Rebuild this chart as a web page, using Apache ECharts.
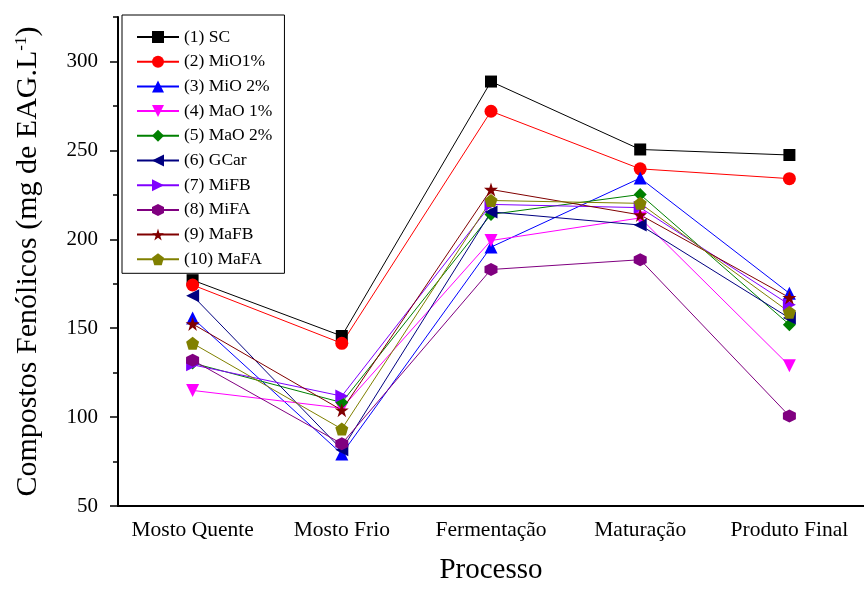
<!DOCTYPE html>
<html>
<head>
<meta charset="utf-8">
<script src="https://cdn.jsdelivr.net/npm/echarts@6/dist/echarts.min.js"></script>
<style>html,body{margin:0;padding:0;background:#fff}#c{width:864px;height:590px}</style>
</head>
<body>
<div id="c"></div>
<script>
const categories = ['Mosto Quente', 'Mosto Frio', 'Fermentação', 'Maturação', 'Produto Final'];
const seriesNames = ['(1) SC', '(2) MiO1%', '(3) MiO 2%', '(4) MaO 1%', '(5) MaO 2%', '(6) GCar', '(7) MiFB', '(8) MiFA', '(9) MaFB', '(10) MaFA'];
const sc    = [177, 145.6, 288.7, 250.5, 247.4];
const mio1  = [174.3, 141.5, 272, 239.6, 234.1];
const mio2  = [155.7, 79.3, 195.6, 234.4, 169.6];
const mao1  = [115, 105, 199.3, 212, 128.9];
const mao2  = [130.4, 108.2, 214, 225.2, 152];
const gcar  = [168.3, 81.7, 215.4, 208, 155.7];
const mifb  = [129.4, 111.8, 219.6, 217.8, 163.2];
const mifa  = [132, 85, 183, 188.5, 100.6];
const mafb  = [152.4, 103.9, 228, 213.7, 167.2];
const mafa  = [141.5, 93.3, 221.8, 220.2, 159];
const yTicks = [50, 100, 150, 200, 250, 300];
const yMinorTicks = [75, 125, 175, 225, 275, 325];

const values = [sc, mio1, mio2, mao1, mao2, gcar, mifb, mifa, mafb, mafa];
const colors = ['#000000', '#ff0000', '#0000ff', '#ff00ff', '#008000', '#000080', '#8000ff', '#800080', '#800000', '#808000'];
const symbols = [
  'rect',
  'circle',
  'triangle',
  'path://M0,0 L10,0 L5,9 Z',
  'diamond',
  'path://M9,0 L9,10 L0,5 Z',
  'path://M0,0 L0,10 L9,5 Z',
  'path://M5,0 L9.33,2.5 L9.33,7.5 L5,10 L0.67,7.5 L0.67,2.5 Z',
  'path://M5,0 L6.18,3.62 L10,3.62 L6.91,5.85 L8.09,9.47 L5,7.24 L1.91,9.47 L3.09,5.85 L0,3.62 L3.82,3.62 Z',
  'path://M5,0 L10,3.8 L8.1,10 L1.9,10 L0,3.8 Z'
];
const sizes = [12, 13, 13, 13, 13, 13, 13, 13, 14, 13];

const font = '"Liberation Serif", "Times New Roman", serif';

const series = values.map((v, i) => ({
  name: seriesNames[i],
  type: 'line',
  data: v,
  xAxisIndex: 0,
  yAxisIndex: 0,
  symbol: symbols[i],
  symbolSize: sizes[i],
  showAllSymbol: true,
  color: colors[i],
  lineStyle: { width: 1, color: colors[i] },
  itemStyle: { color: colors[i] },
  emphasis: { disabled: true },
  animation: false
}));

const chart = echarts.init(document.getElementById('c'), null, { renderer: 'canvas' });
chart.setOption({
  backgroundColor: '#ffffff',
  animation: false,
  textStyle: { fontFamily: font },
  grid: { left: 118, top: 17, bottom: 78, right: -9, containLabel: false },
  legend: {
    orient: 'vertical',
    left: 122,
    top: 15,
    padding: [13, 12, 5, 14],
    itemWidth: 42,
    itemHeight: 15,
    itemGap: 6.7,
    borderColor: '#000',
    borderWidth: 1,
    backgroundColor: '#fff',
    textStyle: { fontFamily: font, fontSize: 17.5, color: '#000' },
    data: seriesNames
  },
  xAxis: [{
    type: 'category',
    data: categories,
    boundaryGap: true,
    name: 'Processo',
    nameLocation: 'middle',
    nameGap: 50,
    nameTextStyle: { fontFamily: font, fontSize: 29, color: '#000' },
    axisLine: { lineStyle: { color: '#000', width: 2 } },
    axisTick: { alignWithLabel: true, length: 9, lineStyle: { color: '#000', width: 1.5 } },
    axisLabel: { color: '#000', fontFamily: font, fontSize: 21.5, margin: 13, interval: 0, hideOverlap: false },
    splitLine: { show: false }
  }, {
    type: 'category',
    data: categories,
    boundaryGap: true,
    position: 'bottom',
    axisLine: { show: false },
    axisTick: { length: 4, interval: 0, lineStyle: { color: '#000', width: 1.5 } },
    axisLabel: { show: false },
    splitLine: { show: false }
  }],
  yAxis: [{
    type: 'value',
    min: 50,
    max: 325,
    interval: 50,
    name: '{a|Compostos Fenólicos (mg de EAG.L}{s|-1}{a|)}',
    nameLocation: 'middle',
    nameGap: 74,
    nameRotate: 90,
    nameTextStyle: {
      rich: {
        a: { fontFamily: font, fontSize: 30, color: '#000' },
        s: { fontFamily: font, fontSize: 17, color: '#000', padding: [0, 0, 14, 0] }
      }
    },
    axisLine: { show: true, lineStyle: { color: '#000', width: 2 } },
    axisTick: { show: true, length: 8, customValues: yTicks, lineStyle: { color: '#000', width: 1.5 } },
    axisLabel: { color: '#000', fontFamily: font, fontSize: 21, margin: 20, customValues: yTicks },
    splitLine: { show: false }
  }, {
    type: 'value',
    min: 50,
    max: 325,
    position: 'left',
    offset: 0,
    axisLine: { show: false },
    axisTick: { show: true, length: 5, customValues: yMinorTicks, lineStyle: { color: '#000', width: 1.5 } },
    axisLabel: { show: false },
    splitLine: { show: false }
  }],
  series: series
});
</script>
</body>
</html>
